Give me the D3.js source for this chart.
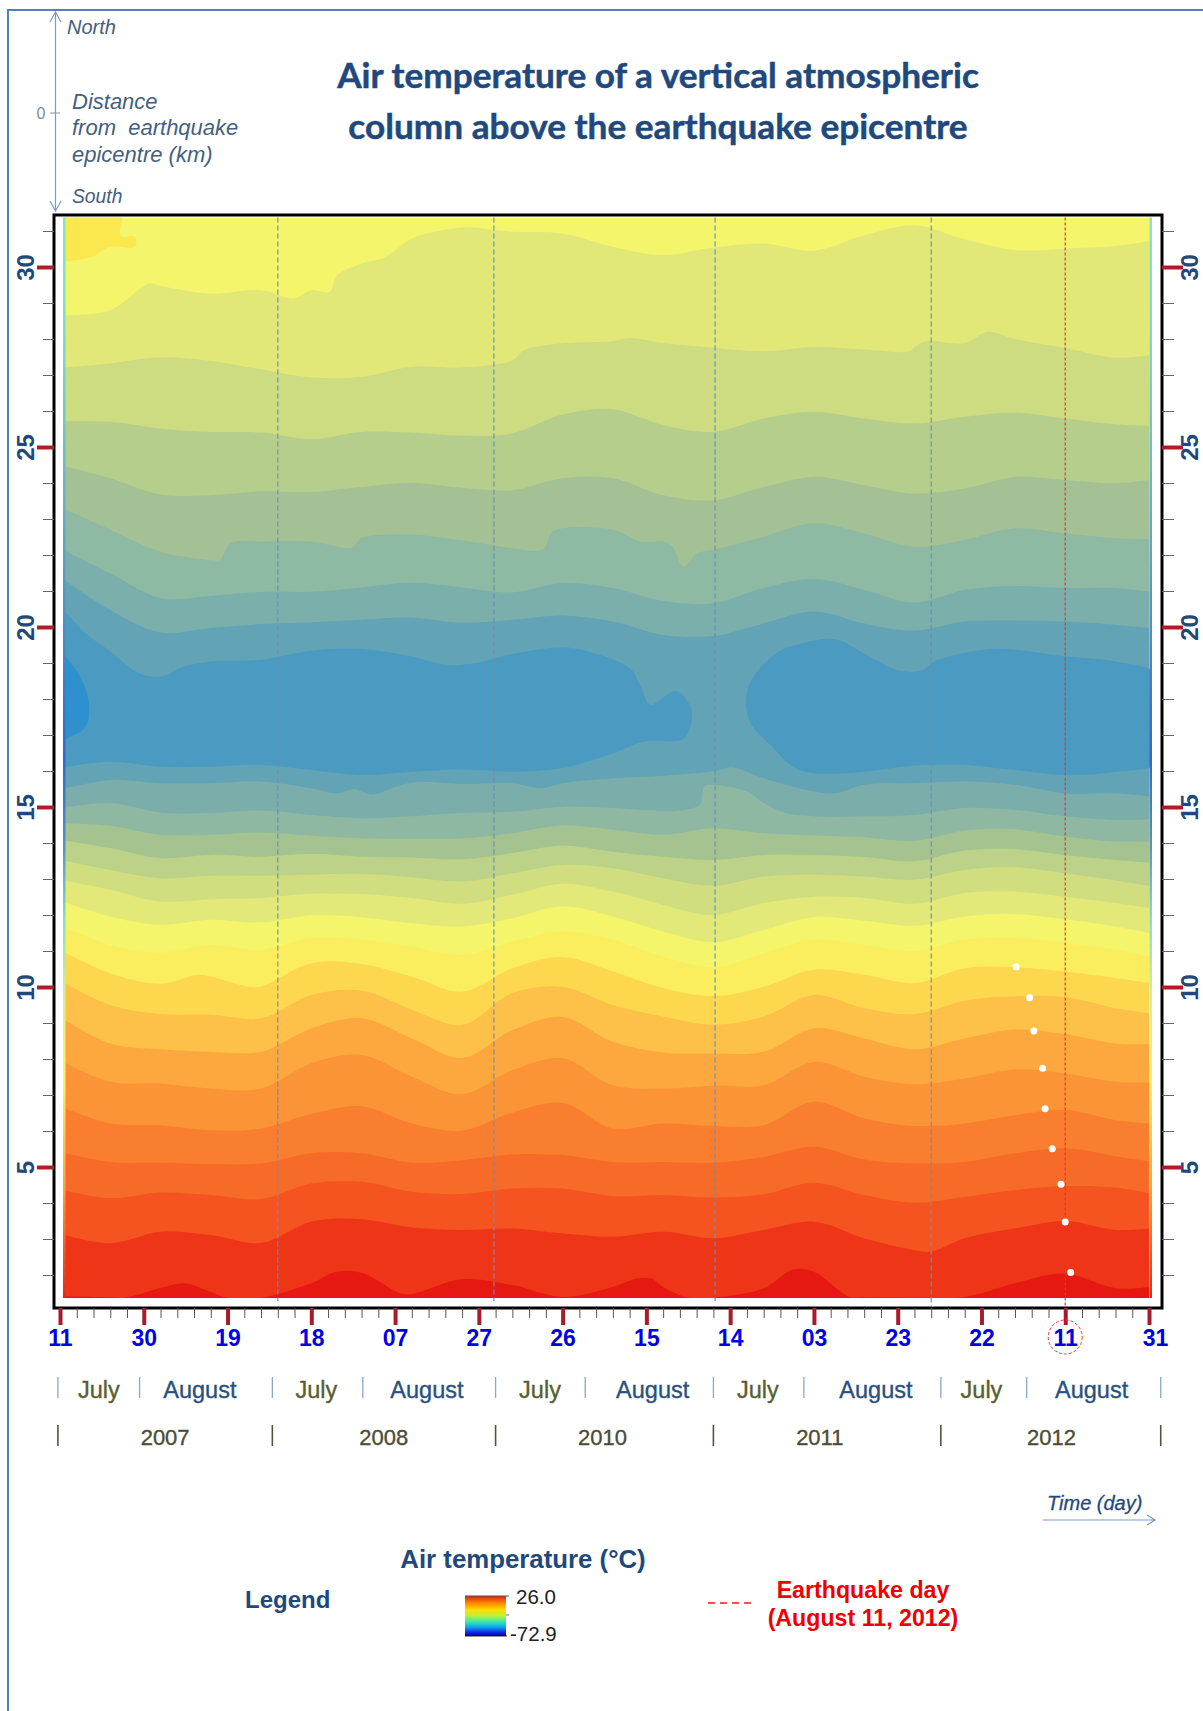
<!DOCTYPE html>
<html>
<head>
<meta charset="utf-8">
<style>
html,body{margin:0;padding:0;background:#fff;}
svg{display:block;}
text{font-family:"Liberation Sans",Arial,sans-serif;}
</style>
<script src="https://cdn.jsdelivr.net/npm/d3@7/dist/d3.min.js"></script>
</head>
<body>
<div id="chart"></div>
<script>
// ---------- DATA ----------
const titleLines = ["Air temperature of a vertical atmospheric","column above the earthquake epicentre"];
const dayTickLabels = ["11","30","19","18","07","27","26","15","14","03","23","22","11","31"];
const dayTickValues = [0,20,40,60,80,100,120,140,160,180,200,220,240,260];
const kmMajor = [5,10,15,20,25,30];
const kmMinor = [2,3,4,6,7,8,9,11,12,13,14,16,17,18,19,21,22,23,24,26,27,28,29,31];
const monthNames = ["July","August","July","August","July","August","July","August","July","August"];
const monthNameDays = [9.3,33.4,61.2,87.6,114.6,141.5,166.6,194.8,220,246.3];
const monthSeparators = [-0.5,19,50.7,72.3,104,125.4,156,177.6,210.3,230.8,262.8];
const yearNames = ["2007","2008","2010","2011","2012"];
const yearNameDays = [25.1,77.3,129.5,181.4,236.7];
const yearSeparators = [-0.5,50.7,104,156,210.3,262.8];
const campaignBreaks = [52,103.6,156.4,208];
const earthquakeDay = 240;
const dotDays = [228.3,231.5,232.5,234.6,235.2,236.9,239,240,241.3];
const dotKm = [10.56,9.70,8.78,7.74,6.62,5.51,4.52,3.47,2.07];

// days at which every contour below was read
const gridDays = [0,12,24,36,48,60,72,84,96,108,120,132,144,156,168,180,192,204,216,228,240,252,260];

// contour heights (km) from the top of the atmosphere column to the ground
const contour01 = [28.66,28.80,29.47,29.26,29.36,29.36,30.10,30.79,31.10,30.98,30.93,30.56,30.33,30.54,30.65,30.45,30.88,31.16,30.77,30.47,30.51,30.58,30.72];
const contour02 = [27.20,27.32,27.49,27.39,27.16,26.93,26.95,27.23,27.21,27.41,27.88,27.94,27.89,27.76,27.66,27.78,27.71,27.78,27.88,28.00,27.75,27.48,27.55];
const contour03 = [25.72,25.70,25.51,25.42,25.40,25.22,25.42,25.40,25.31,25.38,25.90,26.05,25.61,25.42,25.79,25.98,25.79,25.65,25.84,25.96,25.79,25.63,25.59];
const contour04 = [24.50,24.13,23.68,23.66,23.77,23.75,23.89,24.01,23.87,23.80,24.13,24.13,23.66,23.52,23.89,24.17,23.94,23.71,23.85,24.17,24.08,23.99,24.08];
const contour05 = [23.34,22.70,22.09,21.86,22.37,22.37,22.47,22.56,22.40,22.19,22.74,22.70,22.37,22.14,22.51,22.88,22.60,22.23,22.42,22.74,22.60,22.47,22.44];
const contour06 = [22.19,21.49,20.80,20.87,20.97,20.98,21.10,21.23,21.10,20.96,21.22,21.08,20.72,20.66,21.08,21.33,21.03,20.68,21.03,21.14,21.08,21.08,20.98];
const contour07 = [21.40,20.47,19.85,19.97,20.08,20.13,20.20,20.26,20.12,20.20,20.32,20.15,19.78,19.75,20.10,20.43,20.10,19.90,20.15,20.18,20.15,20.06,19.97];
const contour08 = [15.48,15.75,15.66,15.66,15.71,15.52,15.43,15.68,15.64,15.66,15.66,15.80,15.87,15.99,15.80,15.43,15.62,15.66,15.71,15.62,15.38,15.38,15.29];
const contour09 = [14.97,15.11,14.85,14.83,14.90,14.78,14.69,14.74,14.83,14.87,15.01,14.97,14.89,15.62,15.11,14.74,14.74,14.78,14.97,14.92,14.74,14.64,14.66];
const contour10 = [14.55,14.48,14.23,14.23,14.29,14.20,14.13,14.12,14.13,14.27,14.49,14.37,14.23,14.41,14.27,14.21,14.16,14.06,14.35,14.38,14.18,14.04,14.04];
const contour11 = [14.09,13.86,13.58,13.67,13.62,13.70,13.62,13.60,13.55,13.72,13.93,13.76,13.62,13.53,13.67,13.67,13.61,13.49,13.79,13.83,13.67,13.53,13.46];
const contour12 = [13.53,13.25,13.02,13.09,13.09,13.12,13.14,13.05,12.93,13.16,13.39,13.30,13.02,12.81,13.07,13.12,13.07,12.98,13.25,13.33,13.16,12.96,12.81];
const contour13 = [12.98,12.70,12.37,12.44,12.47,12.59,12.58,12.47,12.31,12.56,12.87,12.65,12.28,12.00,12.33,12.51,12.47,12.31,12.61,12.65,12.51,12.33,12.19];
const contour14 = [12.40,11.96,11.73,11.87,11.79,11.99,11.94,11.77,11.68,11.91,12.24,11.96,11.54,11.24,11.59,11.94,11.84,11.70,11.96,12.03,11.88,11.68,11.50];
const contour15 = [11.73,11.17,10.96,11.17,11.03,11.36,11.31,11.12,10.89,11.26,11.54,11.31,10.85,10.55,10.94,11.31,11.17,11.00,11.31,11.36,11.22,11.03,10.85];
const contour16 = [11.03,10.38,10.09,10.29,10.01,10.66,10.64,10.29,9.87,10.52,10.83,10.43,9.97,9.75,10.01,10.48,10.34,10.11,10.52,10.55,10.43,10.25,10.11];
const contour17 = [10.18,9.50,9.25,9.23,9.13,9.78,9.90,9.37,8.95,9.83,10.00,9.50,9.18,8.95,9.18,9.78,9.41,9.25,9.62,9.74,9.72,9.41,9.27];
const contour18 = [9.17,8.43,8.27,8.20,8.20,8.85,9.13,8.57,8.03,8.80,9.17,8.48,8.18,8.15,8.20,8.85,8.57,8.27,8.57,8.82,8.69,8.43,8.41];
const contour19 = [7.97,7.37,7.32,7.18,7.18,7.88,8.11,7.51,7.02,7.69,8.02,7.27,7.18,7.26,7.27,7.92,7.51,7.30,7.46,7.71,7.60,7.37,7.35];
const contour20 = [6.69,6.21,6.16,6.02,6.07,6.47,6.69,6.21,6.01,6.51,6.78,6.07,6.21,6.14,6.16,6.81,6.35,6.14,6.21,6.44,6.58,6.30,6.21];
const contour21 = [5.42,5.14,5.12,5.08,5.10,5.38,5.38,5.12,5.19,5.35,5.33,5.14,5.14,5.12,5.28,5.56,5.21,5.10,5.14,5.38,5.52,5.30,5.16];
const contour22 = [4.38,4.13,4.29,4.22,4.11,4.54,4.59,4.31,4.25,4.40,4.40,4.19,4.22,4.15,4.24,4.56,4.22,4.01,4.17,4.36,4.47,4.43,4.27];
const contour23 = [3.15,2.88,3.20,3.11,2.89,3.48,3.55,3.32,3.25,3.29,3.15,3.06,3.20,3.02,3.25,3.48,3.02,2.69,3.02,3.29,3.50,3.25,3.29];
const contour24 = [1.41,1.38,1.64,1.53,1.37,1.77,2.06,1.47,1.88,1.72,1.39,1.67,1.67,1.37,1.63,2.09,1.38,1.37,1.39,1.77,2.04,1.63,1.67];

// additional readings [day, km] where a contour has a kink between grid days
const kinks01 = [[21.3,29.54],[55.9,29.13],[64.4,29.31],[66,29.75],[77,30.24],[86.3,30.89]];
const kinks02 = [[202.9,27.66],[207,27.94],[221.4,28.20],[110.8,27.69],[136,28.03]];
const kinks05 = [[38.2,21.86],[40.7,22.33],[69.9,22.21],[115.4,22.16],[117.2,22.60],[138.7,22.37],[146.3,22.23],[148.8,21.68],[152.2,22.05]];
const kinks08 = [[66,15.38],[70.3,15.50],[74.5,15.35],[115,15.52],[160.6,16.10],[185,15.38]];
const kinks09 = [[148,14.90],[152.7,15.06],[153.9,15.57],[164,15.43],[173.3,14.83]];
const kinks16 = [[33.1,10.34],[45,10.01]];
const kinks23 = [[208,2.65]];
const kinks24 = [[15.4,1.37],[29.7,1.77],[39.9,1.37],[66,2.09],[81.3,1.49],[137.8,1.90],[141.2,1.90],[149.7,1.38],[175,2.15],[188.5,1.39]];

// closed contours
const warmPatch = [[0,31.6],[14.5,31.6],[14.5,30.87],[17.9,30.84],[17.9,30.56],[12,30.56],[7.8,30.29],[1.9,30.16],[0,30.16]];
const coldCoreWest = [[-2,20.6],[1,20.43],[6,19.83],[12,19.32],[18.8,18.72],[24,18.62],[29.7,18.90],[36,19.04],[48,19.09],[60,19.34],[72,19.39],[84,19.18],[92.2,18.95],[99,18.99],[108,19.25],[120,19.43],[126,19.32],[136.1,18.85],[138.7,18.34],[140.9,17.84],[147.1,18.22],[150.5,17.79],[150.8,17.42],[148.8,16.89],[139.5,16.82],[132,16.49],[120,16.08],[108,15.98],[96,16.05],[84,15.98],[72,15.89],[60,16.03],[48,16.17],[36,16.12],[24,16.12],[12,16.26],[1,16.12],[-2,16.12]];
const coldCoreEast = [[164.5,18.39],[171.6,19.32],[176.7,19.53],[185.1,19.66],[191.9,19.27],[200.3,18.79],[205.7,18.79],[208.8,19.04],[222.3,19.39],[240,19.18],[252,19.04],[263,18.6],[263,16.3],[252,15.98],[240,15.89],[228,16.03],[216,16.17],[204,16.15],[192,15.98],[180,15.94],[175,16.12],[170,16.68],[164.5,17.42]];
const coldestCore = [[-2,19.6],[1,19.22],[5.2,18.53],[6.9,17.88],[6.1,17.23],[1,16.86],[-2,16.6]];

const legendTitle = "Air temperature (°C)";
const legendMax = "26.0";
const legendMin = "-72.9";
const quakeLegend = ["Earthquake day","(August 11, 2012)"];
const distanceNote = ["Distance","from  earthquake","epicentre (km)"];

// ---------- STYLE ----------
const bandColors = ["#e2e878","#cddc80","#b6ce8b","#a3c194","#8eb9a2","#7bafab","#62a3b6",
  "#7badab","#8eb8a1","#a5c291","#bcd289","#d0de80","#e2e978","#f4f56b","#fbee5e","#fdd84e",
  "#fdc048","#fca83f","#fb9337","#f97e30","#f76b29","#f5531f","#ee3518","#e61812"];
const topColor = "#f4f56b";
const navy = "#1f497d";
const W = 1203, H = 1711;
const fill = {left:64.5, right:1150, top:217.5, bottom:1298};
const frame = {left:54, right:1162, top:215, bottom:1308};
const sansFont = '"Liberation Sans",Arial,sans-serif';

// ---------- SCALES ----------
const x = d3.scaleLinear().domain([0,260]).range([60,1149]);
const y = d3.scaleLinear().domain([5,30]).range([1167,267]);

const svg = d3.select("#chart").append("svg").attr("width",W).attr("height",H).attr("viewBox",[0,0,W,H]);
const defs = svg.append("defs");
defs.append("clipPath").attr("id","plotClip").append("rect")
  .attr("x",fill.left).attr("y",fill.top).attr("width",fill.right-fill.left).attr("height",fill.bottom-fill.top);

// page outline
svg.append("path").attr("d",`M8,${H} V10 H${W}`).attr("fill","none").attr("stroke","#4f81bd").attr("stroke-width",2);

// ---------- CONTOURS ----------
const contours = [contour01,contour02,contour03,contour04,contour05,contour06,contour07,contour08,contour09,contour10,contour11,contour12,contour13,contour14,contour15,contour16,contour17,contour18,contour19,contour20,contour21,contour22,contour23,contour24];
const kinks = {0:kinks01,1:kinks02,4:kinks05,7:kinks08,8:kinks09,15:kinks16,22:kinks23,23:kinks24};
const plot = svg.append("g").attr("clip-path","url(#plotClip)");
plot.append("rect").attr("x",fill.left).attr("y",fill.top).attr("width",fill.right-fill.left).attr("height",fill.bottom-fill.top).attr("fill",topColor);

const area = d3.area().x(d=>x(d[0])).y0(y(0)).y1(d=>y(d[1])).curve(d3.curveCatmullRom.alpha(0.5));
const bandsData = contours.map((values,i)=>
  values.map((v,j)=>[gridDays[j],v]).concat(kinks[i]||[]).sort((a,b)=>a[0]-b[0]));
const closed = d3.line().x(d=>x(d[0])).y(d=>y(d[1])).curve(d3.curveCatmullRomClosed.alpha(0.5));

bandsData.forEach((pts,i)=>{
  plot.append("path").attr("d",area(pts)).attr("fill",bandColors[i]);
  if(i===6){ // the cold core lies on the band under the seventh contour; later bands start below it
    plot.append("path").attr("d",closed(coldCoreWest)).attr("fill","#4a9ac1");
    plot.append("path").attr("d",closed(coldCoreEast)).attr("fill","#4a9ac1");
    plot.append("path").attr("d",closed(coldestCore)).attr("fill","#2e90cc");
  }
});
plot.append("path").attr("d",closed(warmPatch)).attr("fill","#fbe84f");

// edge strips of the interpolated field
const grad = defs.append("linearGradient").attr("id","edgeGrad").attr("x1",0).attr("x2",0).attr("y1",0).attr("y2",1);
[[0,"#86e6c6"],[0.1,"#80dcc8"],[0.25,"#6bb4c4"],[0.4,"#4f86c0"],[0.5,"#3168c4"],[0.58,"#5590c0"],[0.65,"#86e0c6"],[0.72,"#d6ee96"],[0.8,"#fff060"],[0.9,"#f8a040"],[1,"#e02a14"]]
 .forEach(s=>grad.append("stop").attr("offset",s[0]).attr("stop-color",s[1]));
svg.append("rect").attr("x",63).attr("y",fill.top).attr("width",2.5).attr("height",fill.bottom-fill.top).attr("fill","url(#edgeGrad)");
svg.append("rect").attr("x",1149.5).attr("y",fill.top).attr("width",2.5).attr("height",fill.bottom-fill.top).attr("fill","url(#edgeGrad)");

// campaign separators
svg.append("g").selectAll("line").data(campaignBreaks).join("line")
  .attr("x1",d=>x(d)).attr("x2",d=>x(d)).attr("y1",fill.top).attr("y2",(d,i)=>i===3?1306:1301)
  .attr("stroke","#6f8fb0").attr("stroke-width",1.2).attr("stroke-dasharray","5,3");

// earthquake day line
svg.append("line").attr("x1",x(earthquakeDay)).attr("x2",x(earthquakeDay)).attr("y1",fill.top).attr("y2",1306)
  .attr("stroke","#e8352c").attr("stroke-width",1.2).attr("stroke-dasharray","3,2");

// white dots
svg.append("g").selectAll("circle").data(dotDays).join("circle")
  .attr("cx",d=>x(d)).attr("cy",(d,i)=>y(dotKm[i])).attr("r",3.5).attr("fill","#fff");

// frame
svg.append("rect").attr("x",frame.left).attr("y",frame.top).attr("width",frame.right-frame.left).attr("height",frame.bottom-frame.top)
  .attr("fill","none").attr("stroke","#000").attr("stroke-width",3);

// ---------- AXES ----------
const minorDays = d3.range(0,261,4).filter(d=>!dayTickValues.includes(d));
const axMinorX = svg.append("g").attr("transform",`translate(0,${frame.bottom})`)
  .call(d3.axisBottom(x).tickValues(minorDays).tickSize(10).tickFormat(""));
axMinorX.select(".domain").remove();
axMinorX.selectAll("line").attr("stroke","#555").attr("stroke-width",1);

const axX = svg.append("g").attr("transform",`translate(0,${frame.bottom})`)
  .call(d3.axisBottom(x).tickValues(dayTickValues).tickSize(17).tickPadding(5).tickFormat((d,i)=>dayTickLabels[i]));
axX.select(".domain").remove();
axX.selectAll("line").attr("stroke","#a51d2d").attr("stroke-width",4);
axX.selectAll("text").attr("fill","#0000e6").attr("font-size",23).attr("font-weight","bold").attr("font-family",sansFont);
axX.selectAll("text").filter((d,i)=>i===dayTickValues.length-1).attr("x",6);

function yAxes(axisFn, xPos, minorLen, majorLen, labelOffset){
  const gMinor = svg.append("g").attr("transform",`translate(${xPos},0)`)
    .call(axisFn(y).tickValues(kmMinor).tickSize(minorLen).tickFormat(""));
  gMinor.select(".domain").remove();
  gMinor.selectAll("line").attr("stroke","#666").attr("stroke-width",1);
  const gMajor = svg.append("g").attr("transform",`translate(${xPos},0)`)
    .call(axisFn(y).tickValues(kmMajor).tickSize(majorLen).tickFormat(d=>d));
  gMajor.select(".domain").remove();
  gMajor.selectAll("line").attr("stroke","#b01c2a").attr("stroke-width",4);
  gMajor.selectAll("text")
    .attr("x",0).attr("y",0).attr("dy","0.36em").attr("text-anchor","middle")
    .attr("transform",`translate(${labelOffset},0) rotate(-90)`)
    .attr("fill",navy).attr("font-size",24).attr("font-weight","bold").attr("font-family",sansFont);
}
yAxes(d3.axisLeft, frame.left, 11, 17, -29);
yAxes(d3.axisRight, frame.right, 12, 21, 27);

// ---------- MONTH / YEAR ROWS ----------
svg.append("g").selectAll("line").data(monthSeparators).join("line")
  .attr("x1",d=>x(d)).attr("x2",d=>x(d)).attr("y1",1377).attr("y2",1398).attr("stroke","#8aa8c8").attr("stroke-width",1.3);
svg.append("g").selectAll("text").data(monthNames).join("text")
  .attr("x",(d,i)=>x(monthNameDays[i])).attr("y",1398).attr("text-anchor","middle")
  .attr("font-size",23.5).attr("stroke-width",0.35).attr("fill",d=>d==="July"?"#56602f":"#2a5080").attr("stroke",d=>d==="July"?"#56602f":"#2a5080").text(d=>d);
svg.append("g").selectAll("line").data(yearSeparators).join("line")
  .attr("x1",d=>x(d)).attr("x2",d=>x(d)).attr("y1",1425).attr("y2",1446).attr("stroke","#54543c").attr("stroke-width",1.6);
svg.append("g").selectAll("text").data(yearNames).join("text")
  .attr("x",(d,i)=>x(yearNameDays[i])).attr("y",1445).attr("text-anchor","middle")
  .attr("font-size",22).attr("fill","#4c4c36").attr("stroke","#4c4c36").attr("stroke-width",0.35).text(d=>d);

// ---------- TITLE ----------
svg.append("g").selectAll("text").data(titleLines).join("text")
  .attr("x",658).attr("y",(d,i)=>88+i*51).attr("text-anchor","middle")
  .style("font-family","Lato,'Open Sans',sans-serif").attr("font-weight",700).attr("font-size",35.2)
  .attr("fill",navy).attr("stroke",navy).attr("stroke-width",0.5).text(d=>d);

// ---------- DISTANCE NOTE ----------
const arrowBlue = "#7a9cc8";
svg.append("path").attr("d","M55.5,12 V211 M50,22 L55.5,12 L61,22 M50,201 L55.5,211 L61,201").attr("fill","none").attr("stroke",arrowBlue).attr("stroke-width",1.2);
svg.append("line").attr("x1",50).attr("x2",60).attr("y1",113).attr("y2",113).attr("stroke","#8a9aa8");
svg.append("text").attr("x",41).attr("y",119).attr("text-anchor","middle").attr("font-size",16).attr("fill","#7f8c9a").text("0");
svg.append("text").attr("x",67).attr("y",34).attr("font-size",20).attr("font-style","italic").attr("fill","#44607f").text("North");
svg.append("text").attr("x",72).attr("y",203).attr("font-size",19.3).attr("font-style","italic").attr("fill","#44607f").text("South");
svg.append("g").selectAll("text").data(distanceNote).join("text")
  .attr("x",72).attr("y",(d,i)=>109+i*26.3).attr("font-size",22).attr("font-style","italic").attr("fill","#44607f").style("white-space","pre").text(d=>d);

// ---------- TIME NOTE ----------
svg.append("text").attr("x",1047).attr("y",1510).attr("font-size",20).attr("font-style","italic").attr("fill",navy).attr("stroke",navy).attr("stroke-width",0.3).text("Time (day)");
svg.append("path").attr("d","M1043,1520 H1155 M1147,1515 L1155,1520 L1147,1525").attr("fill","none").attr("stroke",arrowBlue).attr("stroke-width",1.2);

// ---------- LEGEND ----------
svg.append("text").attr("x",523).attr("y",1568).attr("text-anchor","middle").attr("font-size",25.8).attr("font-weight","bold").attr("fill",navy).text(legendTitle);
svg.append("text").attr("x",245).attr("y",1608).attr("font-size",24).attr("font-weight","bold").attr("fill",navy).text("Legend");
const lg = defs.append("linearGradient").attr("id","legendGrad").attr("x1",0).attr("x2",0).attr("y1",0).attr("y2",1);
[[0,"#e02010"],[0.18,"#ff8a00"],[0.35,"#ffe000"],[0.5,"#b8f040"],[0.65,"#30e8b0"],[0.78,"#10a0f0"],[0.92,"#1020e0"],[1,"#000090"]]
 .forEach(s=>lg.append("stop").attr("offset",s[0]).attr("stop-color",s[1]));
svg.append("rect").attr("x",465).attr("y",1596).attr("width",41).attr("height",40).attr("fill","url(#legendGrad)");
svg.append("line").attr("x1",465).attr("x2",509).attr("y1",1596).attr("y2",1596).attr("stroke","#555");
svg.append("line").attr("x1",465).attr("x2",507).attr("y1",1636).attr("y2",1636).attr("stroke","#222");
svg.append("line").attr("x1",506).attr("x2",509).attr("y1",1615).attr("y2",1615).attr("stroke","#777");
svg.append("text").attr("x",516).attr("y",1604).attr("font-size",20.5).attr("fill","#222").text(legendMax);
svg.append("text").attr("x",510).attr("y",1641).attr("font-size",20.5).attr("fill","#222").text(legendMin);
svg.append("line").attr("x1",708).attr("x2",752).attr("y1",1603).attr("y2",1603).attr("stroke","#f01818").attr("stroke-width",1.6).attr("stroke-dasharray","7,5");
svg.append("g").selectAll("text").data(quakeLegend).join("text")
  .attr("x",863).attr("y",(d,i)=>1598+i*27.5).attr("text-anchor","middle").attr("font-size",23.2).attr("font-weight","bold").attr("fill","#f00000").text(d=>d);

// day-of-quake ring
svg.append("circle").attr("cx",x(earthquakeDay)).attr("cy",1337).attr("r",17).attr("fill","none").attr("stroke","#e8353a").attr("stroke-width",1).attr("stroke-dasharray","3,2");
</script>
</body>
</html>
